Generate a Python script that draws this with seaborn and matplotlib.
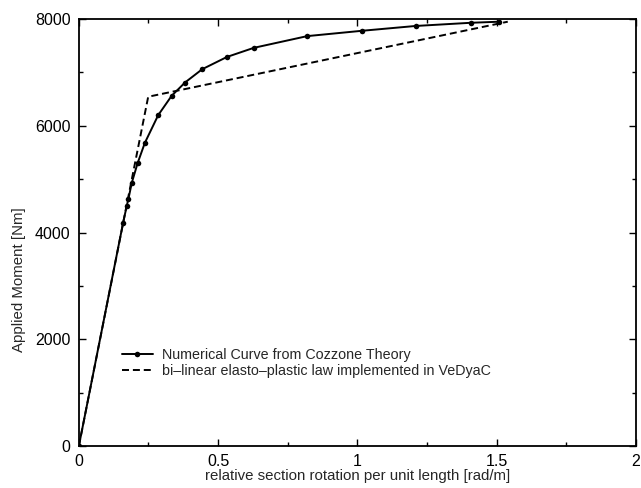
import matplotlib
matplotlib.use("Agg")
import matplotlib.pyplot as plt
import seaborn as sns
import pandas as pd
from matplotlib.ticker import MultipleLocator

# Numerical curve from Cozzone theory (rotation [rad/m], moment [Nm])
cozzone_x = [0.0, 0.159, 0.172, 0.178, 0.190, 0.211, 0.237, 0.285, 0.333, 0.381,
             0.443, 0.532, 0.628, 0.820, 1.017, 1.209, 1.408, 1.510]
cozzone_y = [0, 4184, 4500, 4630, 4930, 5300, 5680, 6200, 6560, 6810,
             7060, 7290, 7460, 7680, 7780, 7870, 7930, 7950]

# Bi-linear elasto-plastic law
bilin_x = [0.0, 0.249, 1.54]
bilin_y = [0, 6544, 7950]

label_cozzone = "Numerical Curve from Cozzone Theory"
label_bilin = "bi\u2013linear elasto\u2013plastic law implemented in VeDyaC"
xlabel = "relative section rotation per unit length [rad/m]"
ylabel = "Applied Moment [Nm]"
xticks = [0, 0.5, 1, 1.5, 2]
xticklabels = ["0", "0.5", "1", "1.5", "2"]
yticks = [0, 2000, 4000, 6000, 8000]

sns.set_style("ticks")
plt.rcParams["font.family"] = ["Liberation Sans", "DejaVu Sans"]

df_c = pd.DataFrame({"x": cozzone_x, "y": cozzone_y})
df_b = pd.DataFrame({"x": bilin_x, "y": bilin_y})

fig = plt.figure(figsize=(6.41, 4.88), dpi=100)
ax = fig.add_axes([0.123, 0.086, 0.869, 0.875])

sns.lineplot(data=df_c, x="x", y="y", ax=ax, color="black", lw=1.4,
             marker="o", markersize=4, markeredgewidth=0, sort=False,
             label=label_cozzone, estimator=None)
sns.lineplot(data=df_b, x="x", y="y", ax=ax, color="black", lw=1.4,
             linestyle=(0, (3.6, 2.0)), sort=False, label=label_bilin, estimator=None)

ax.set_xlim(0, 2)
ax.set_ylim(0, 8000)
ax.set_xticks(xticks)
ax.set_xticklabels(xticklabels)
ax.set_yticks(yticks)
ax.xaxis.set_minor_locator(MultipleLocator(0.25))
ax.yaxis.set_minor_locator(MultipleLocator(1000))
ax.tick_params(which="both", direction="in", top=True, right=True,
               labelsize=11.5, colors="black", width=1)
ax.tick_params(axis="x", which="major", pad=6)
ax.tick_params(axis="y", which="major", pad=6)
ax.tick_params(which="major", length=5)
ax.tick_params(which="minor", length=3)
for s in ax.spines.values():
    s.set_linewidth(1.3)
    s.set_color("black")

ax.set_xlabel(xlabel, fontsize=10.8, labelpad=0)
ax.set_ylabel(ylabel, fontsize=10.8)
ax.yaxis.set_label_coords(-0.095, 0.39)

leg = ax.legend(loc="lower left", bbox_to_anchor=(0.077, 0.159), frameon=False,
                fontsize=10.3, handlelength=2.2, handletextpad=0.6,
                labelspacing=0.15, borderpad=0, borderaxespad=0)

fig.savefig("out.png", dpi=100)
